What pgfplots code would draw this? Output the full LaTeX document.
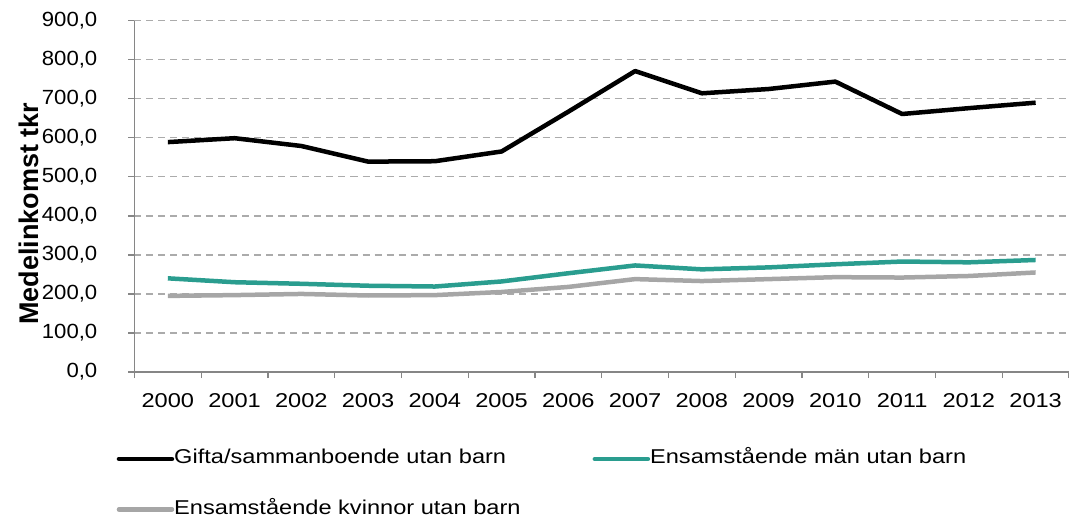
\documentclass[border=0pt]{standalone}
\usepackage{pgfplots}
\pgfplotsset{compat=1.18}
\usepackage{fontspec}
\setmainfont[FakeStretch=1.18]{Liberation Sans}
\newfontfamily\labfont{Liberation Sans}
\newfontfamily\yfont[FakeStretch=1.08]{Liberation Sans}
\definecolor{teal1}{HTML}{2A9D8F}
\definecolor{gr1}{HTML}{A6A6A6}
\definecolor{gridc}{HTML}{ABABAB}
\definecolor{axc}{HTML}{868686}
\newcommand{\fs}{\fontsize{20}{24}\selectfont}
\begin{document}
\begin{tikzpicture}
\begin{axis}[
  scale only axis, width=934.5pt, height=351.3pt,
  xmin=-0.5, xmax=13.5, ymin=0, ymax=900,
  axis x line*=bottom, axis y line*=left,
  axis line style={axc, line width=1.3pt, -},
  xtick={-0.5,0.5,...,13.5},
  x tick label as interval,
  xticklabels={2000,2001,2002,2003,2004,2005,2006,2007,2008,2009,2010,2011,2012,2013},
  ytick={0,100,...,900},
  tick align=outside,
  major tick length=6pt,
  tick style={axc, line width=1.3pt},
  ymajorgrids,
  grid style={gridc, dash pattern=on 7pt off 5pt, line width=1.3pt},
  /pgf/number format/assume math mode=true,
  /pgf/number format/fixed,
  /pgf/number format/fixed zerofill,
  /pgf/number format/precision=1,
  /pgf/number format/use comma,
  xticklabel style={yshift=-12pt, font=\fs},
  yticklabel style={anchor=east, inner sep=0pt, xshift=-31pt, font=\yfont\fontsize{20.5}{24}\selectfont},
  ylabel={\bfseries Medelinkomst tkr},
  ylabel style={font=\labfont\fontsize{27}{30}\selectfont, at={(axis description cs:-0.1129,0.45)}, anchor=center},
  legend columns=2,
  legend cell align=left,
  legend style={draw=none, fill=none, font=\fs, inner sep=0pt, outer sep=0pt,
    at={(axis description cs:-0.019,-0.222)}, anchor=north west,
    nodes={inner sep=0pt, text height=14pt, text depth=4pt, xshift=4pt},
    row sep=32.5pt,
    /tikz/every even column/.append style={column sep=72pt}},
  legend image code/.code={\draw[#1, line cap=round] (0pt,0pt) -- (53pt,0pt);},
  line join=round,
]
\addplot[black, line width=4.5pt] coordinates {
(0,589) (1,599) (2,579) (3,539) (4,540) (5,565) (6,667) (7,771) (8,714) (9,725) (10,744) (11,661) (12,676) (13,690)};
\addlegendentry{Gifta/sammanboende utan barn}
\addplot[teal1, line width=4.5pt] coordinates {
(0,240) (1,230) (2,226) (3,221) (4,219) (5,232) (6,253) (7,273) (8,263) (9,268) (10,276) (11,283) (12,281) (13,287)};
\addlegendentry{Ensamstående män utan barn}
\addplot[gr1, line width=4.5pt] coordinates {
(0,195) (1,197) (2,200) (3,196) (4,197) (5,205) (6,218) (7,238) (8,233) (9,238) (10,243) (11,242) (12,246) (13,255)};
\addlegendentry{Ensamstående kvinnor utan barn}
\end{axis}
\pgfresetboundingbox
\path[use as bounding box] (-134.5pt,-145pt) rectangle (934.5pt,372pt);
\end{tikzpicture}
\end{document}
